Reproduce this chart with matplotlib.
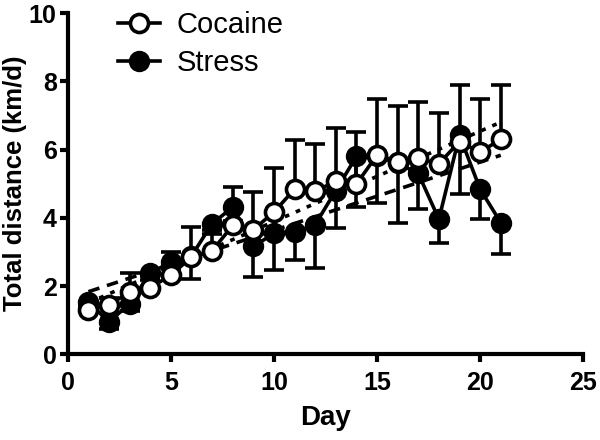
"""Total distance per day: Cocaine vs Stress with linear fits"""
import matplotlib
matplotlib.use('Agg')
import matplotlib.pyplot as plt
import numpy as np

plt.rcParams.update({
    'font.family': ['Liberation Sans', 'DejaVu Sans'],
    'axes.spines.top': False,
    'axes.spines.right': False,
})

days = np.arange(1, 22)
cocaine = [1.29, 1.45, 1.82, 1.95, 2.32, 2.85, 3.03, 3.78, 3.65, 4.17, 4.84,
           4.78, 5.07, 4.99, 5.84, 5.64, 5.74, 5.59, 6.23, 5.93, 6.30]
cocaine_err = [0.15, 0.2, 0.55, 0.35, 0.68, 0.88, 0.6, 1.11, 1.12, 1.29, 1.44,
               1.38, 1.57, 1.53, 1.64, 1.64, 1.66, 1.49, 1.67, 1.54, 1.59]
stress = [1.52, 0.95, 1.48, 2.37, 2.71, 2.88, 3.83, 4.31, 3.16, 3.54, 3.57,
          3.80, 4.80, 5.80, 5.80, 5.60, 5.30, 3.96, 6.42, 4.84, 3.86]
stress_err = [0.15, 0.2, 0.2, 0.2, 0.2, 0.68, 0.3, 0.4, 0.89, 1.06, 0.80,
              1.27, 1.09, 1.49, 1.38, 1.75, 1.05, 0.69, 1.71, 0.88, 0.93]

LW = 2.6
fig = plt.figure(figsize=(6, 4.4), dpi=100)
ax = fig.add_axes([0.113, 0.195, 0.859, 0.775])

# linear regression lines
for vals, dash in [(stress, (3.2, 2.2)), (cocaine, (1.3, 2.0))]:
    k, b = np.polyfit(days, vals, 1)
    xs = np.array([days[0], days[-1]])
    ax.plot(xs, k * xs + b, color='black', lw=LW, dashes=dash, zorder=1)

zeros = np.zeros(len(days))
# stress: error below, cocaine: error above
ax.errorbar(days, stress, yerr=[stress_err, zeros], fmt='none', ecolor='black',
            elinewidth=LW, capsize=7.5, capthick=LW, zorder=2)
ax.plot(days, stress, '-o', color='black', lw=LW, ms=13, mfc='black',
        mec='black', mew=2.4, zorder=3, label='Stress')
ax.errorbar(days, cocaine, yerr=[zeros, cocaine_err], fmt='none', ecolor='black',
            elinewidth=LW, capsize=7.5, capthick=LW, zorder=4)
ax.plot(days, cocaine, '-o', color='black', lw=LW, ms=13, mfc='white',
        mec='black', mew=2.6, zorder=5, label='Cocaine')

ax.set_xlim(0, 25)
ax.set_ylim(0, 10)
ax.set_xticks([0, 5, 10, 15, 20, 25])
ax.set_yticks([0, 2, 4, 6, 8, 10])
for s in ['left', 'bottom']:
    ax.spines[s].set_linewidth(3)
ax.tick_params(direction='out', length=6, width=3, labelsize=18)
ax.tick_params(axis='x', pad=6)
ax.tick_params(axis='y', pad=2)
for lab in ax.get_xticklabels() + ax.get_yticklabels():
    lab.set_fontweight('bold')

ax.set_xlabel('Day', fontsize=20, fontweight='bold', labelpad=7)
ax.set_ylabel('Total distance (km/d)', fontsize=18.5, fontweight='bold',
              labelpad=1)

h, l = ax.get_legend_handles_labels()
ax.legend(h[::-1], l[::-1], loc='upper left', bbox_to_anchor=(0.075, 1.04),
          frameon=False, fontsize=21, handlelength=1.45, handletextpad=0.55,
          labelspacing=0.35, borderaxespad=0)

fig.savefig('out.png', dpi=100)
plt.close(fig)
